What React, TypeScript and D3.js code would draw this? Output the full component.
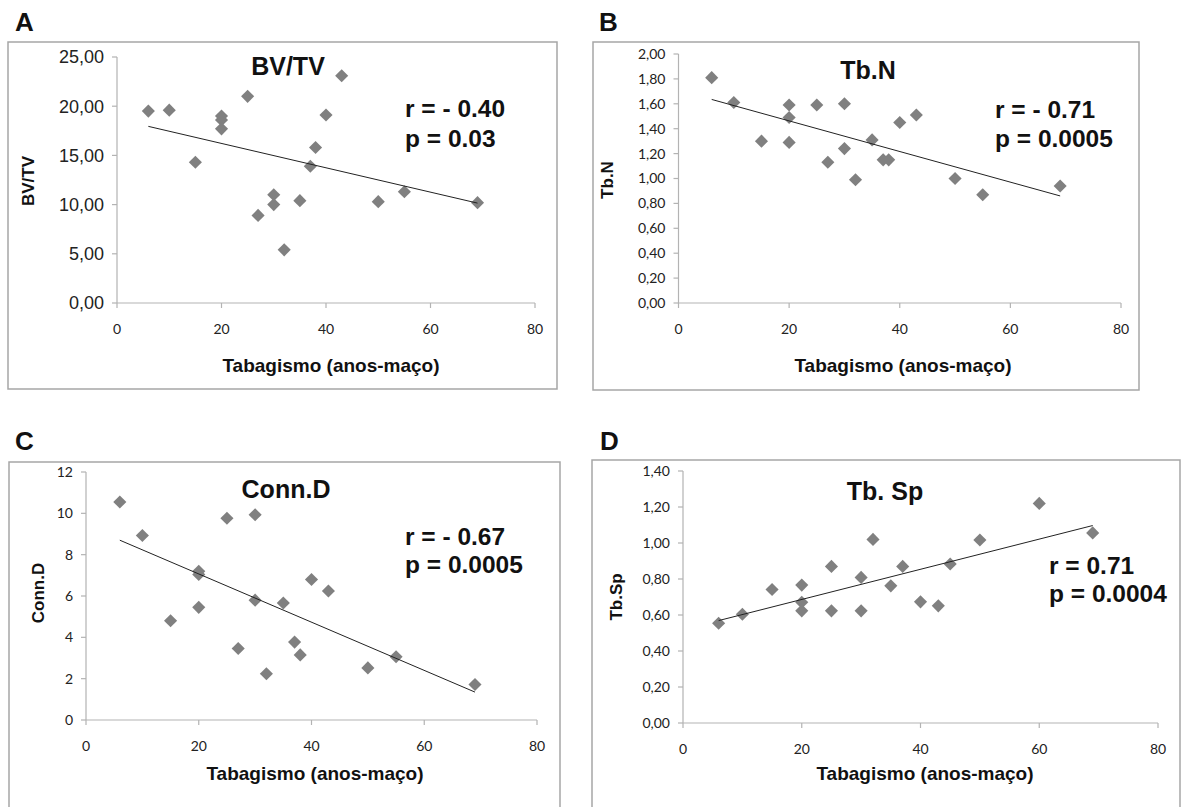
import React from "react";
import * as d3 from "d3";

// ---- Data ----
const xA = [6, 10, 15, 20, 20, 20, 25, 27, 30, 30, 32, 35, 37, 38, 40, 43, 50, 55, 69];
const yA = [19.5, 19.6, 14.3, 19.0, 18.6, 17.7, 21.0, 8.9, 11.0, 10.0, 5.4, 10.4, 13.9, 15.8, 19.1, 23.1, 10.3, 11.3, 10.2];
const trendA = [[6, 17.95], [69, 10.15]];

const xB = [6, 10, 15, 20, 20, 20, 25, 27, 30, 30, 32, 35, 37, 38, 40, 43, 50, 55, 69];
const yB = [1.81, 1.61, 1.30, 1.59, 1.49, 1.29, 1.59, 1.13, 1.60, 1.24, 0.99, 1.31, 1.15, 1.15, 1.45, 1.51, 1.00, 0.87, 0.94];
const trendB = [[6, 1.635], [69, 0.86]];

const xC = [6, 10, 15, 20, 20, 20, 25, 27, 30, 30, 32, 35, 37, 38, 40, 43, 50, 55, 69];
const yC = [10.55, 8.93, 4.8, 7.2, 7.04, 5.45, 9.76, 3.46, 9.93, 5.8, 2.24, 5.66, 3.77, 3.15, 6.8, 6.24, 2.52, 3.06, 1.72];
const trendC = [[6, 8.7], [69, 1.35]];

const xD = [6, 10, 15, 20, 20, 20, 25, 25, 30, 30, 32, 35, 37, 40, 43, 45, 50, 60, 69];
const yD = [0.554, 0.604, 0.742, 0.766, 0.671, 0.623, 0.87, 0.623, 0.809, 0.623, 1.02, 0.762, 0.87, 0.673, 0.651, 0.883, 1.017, 1.22, 1.056];
const trendD = [[6, 0.569], [69, 1.097]];

const xTicks = [0, 20, 40, 60, 80];
const yTicksA = [0, 5, 10, 15, 20, 25];
const yTicksB = [0, 0.2, 0.4, 0.6, 0.8, 1.0, 1.2, 1.4, 1.6, 1.8, 2.0];
const yTicksC = [0, 2, 4, 6, 8, 10, 12];
const yTicksD = [0, 0.2, 0.4, 0.6, 0.8, 1.0, 1.2, 1.4];

const panelLetters = ["A", "B", "C", "D"];
const chartTitles = ["BV/TV", "Tb.N", "Conn.D", "Tb. Sp"];
const yTitles = ["BV/TV", "Tb.N", "Conn.D", "Tb.Sp"];
const xTitle = "Tabagismo (anos-maço)";
const rTexts = ["r = - 0.40", "r = - 0.71", "r = - 0.67", "r = 0.71"];
const pTexts = ["p = 0.03", "p = 0.0005", "p = 0.0005", "p = 0.0004"];

const ARIAL = "'Liberation Sans', Arial, sans-serif";
const CALIBRI = "Lato, 'Open Sans', sans-serif";

const fmt2 = (v: number) => v.toFixed(2).replace(".", ",");
const fmt0 = (v: number) => String(v);

type Panel = {
  xs: number[]; ys: number[]; trend: number[][]; yTicks: number[]; yMax: number;
  fmt: (v: number) => string; yTickFont: string; yTickSize: number; xTickFont: string;
  box: [number, number, number, number];
  letter: [number, number];
  plot: [number, number, number, number]; // x0, x80, y0, yTop
  title: [number, number]; stats: [number, number, number];
  yTitle: [number, number]; xTitleP: [number, number];
};

const panels: Panel[] = [
  { xs: xA, ys: yA, trend: trendA, yTicks: yTicksA, yMax: 25, fmt: fmt2, yTickFont: ARIAL, yTickSize: 18, xTickFont: CALIBRI,
    box: [8, 42, 557, 389], letter: [15, 31], plot: [117, 535, 303, 57], title: [288, 75], stats: [405, 117, 147],
    yTitle: [28, 181], xTitleP: [331, 372] },
  { xs: xB, ys: yB, trend: trendB, yTicks: yTicksB, yMax: 2, fmt: fmt2, yTickFont: CALIBRI, yTickSize: 14, xTickFont: CALIBRI,
    box: [593, 42, 1139, 390], letter: [599, 31], plot: [678.5, 1121, 303, 54], title: [868, 79], stats: [995, 118, 147],
    yTitle: [607, 180], xTitleP: [903, 372] },
  { xs: xC, ys: yC, trend: trendC, yTicks: yTicksC, yMax: 12, fmt: fmt0, yTickFont: CALIBRI, yTickSize: 14, xTickFont: CALIBRI,
    box: [9, 462, 560, 830], letter: [15, 450], plot: [86, 537, 720, 472], title: [286, 498], stats: [405, 545, 573],
    yTitle: [38, 593], xTitleP: [315, 780] },
  { xs: xD, ys: yD, trend: trendD, yTicks: yTicksD, yMax: 1.4, fmt: fmt2, yTickFont: CALIBRI, yTickSize: 14, xTickFont: CALIBRI,
    box: [592, 460, 1180, 830], letter: [600, 450], plot: [683, 1158, 723, 471], title: [885, 500], stats: [1049, 574, 602],
    yTitle: [616, 597], xTitleP: [925, 780] },
];

const AXIS = "#b3b3b3";
const MARK = "#808080";
const diamond = d3.symbol().type(d3.symbolSquare).size(86)();

function PanelView({ p, i }: { p: Panel; i: number }) {
  const [x0, x80, y0, yTop] = p.plot;
  const xs = d3.scaleLinear().domain([0, 80]).range([x0, x80]);
  const ys = d3.scaleLinear().domain([0, p.yMax]).range([y0, yTop]);
  const line = d3.line<number[]>().x((d) => xs(d[0])).y((d) => ys(d[1]));
  const [bx0, by0, bx1, by1] = p.box;
  return (
    <g>
      <text x={p.letter[0]} y={p.letter[1]} fontFamily={ARIAL} fontWeight="bold" fontSize={26} fill="#111">{panelLetters[i]}</text>
      <rect x={bx0} y={by0} width={bx1 - bx0} height={by1 - by0} fill="white" stroke="#a6a6a6" strokeWidth={1.5} />
      {/* axes */}
      <line x1={x0} x2={x0} y1={yTop} y2={y0} stroke={AXIS} strokeWidth={1.2} />
      <line x1={x0} x2={x80} y1={y0} y2={y0} stroke={AXIS} strokeWidth={1.2} />
      {p.yTicks.map((t) => (
        <g key={"y" + t}>
          <line x1={x0 - 5} x2={x0} y1={ys(t)} y2={ys(t)} stroke={AXIS} strokeWidth={1.2} />
          <text x={x0 - 13} y={ys(t)} dy="0.35em" textAnchor="end" fontFamily={p.yTickFont} fontSize={p.yTickSize} fill="#222">{p.fmt(t)}</text>
        </g>
      ))}
      {xTicks.map((t) => (
        <g key={"x" + t}>
          <line x1={xs(t)} x2={xs(t)} y1={y0} y2={y0 + 5} stroke={AXIS} strokeWidth={1.2} />
          <text x={xs(t)} y={y0 + 31} textAnchor="middle" fontFamily={p.xTickFont} fontSize={14} fill="#222">{t}</text>
        </g>
      ))}
      {/* points */}
      {p.xs.map((xv, k) => (
        <path key={k} d={diamond || ""} transform={`translate(${xs(xv)},${ys(p.ys[k])}) rotate(45)`} fill={MARK} />
      ))}
      {/* trend */}
      <path d={line(p.trend) || ""} fill="none" stroke="#222" strokeWidth={1} />
      {/* texts */}
      <text x={p.title[0]} y={p.title[1]} textAnchor="middle" fontFamily={ARIAL} fontWeight="bold" fontSize={25} fill="#111">{chartTitles[i]}</text>
      <text x={p.stats[0]} y={p.stats[1]} fontFamily={ARIAL} fontWeight="bold" fontSize={24.5} fill="#111">{rTexts[i]}</text>
      <text x={p.stats[0]} y={p.stats[2]} fontFamily={ARIAL} fontWeight="bold" fontSize={24.5} fill="#111">{pTexts[i]}</text>
      <text transform={`translate(${p.yTitle[0]},${p.yTitle[1]}) rotate(-90)`} textAnchor="middle" dy="0.35em" fontFamily={ARIAL} fontWeight="bold" fontSize={17} fill="#111">{yTitles[i]}</text>
      <text x={p.xTitleP[0]} y={p.xTitleP[1]} textAnchor="middle" fontFamily={ARIAL} fontWeight="bold" fontSize={19} fill="#111">{xTitle}</text>
    </g>
  );
}

export default function App() {
  return (
    <svg width={1181} height={807} style={{ position: "absolute", left: 0, top: 0, background: "white" }}>
      <rect x={0} y={0} width={1181} height={807} fill="white" />
      {panels.map((p, i) => (
        <PanelView key={i} p={p} i={i} />
      ))}
    </svg>
  );
}
